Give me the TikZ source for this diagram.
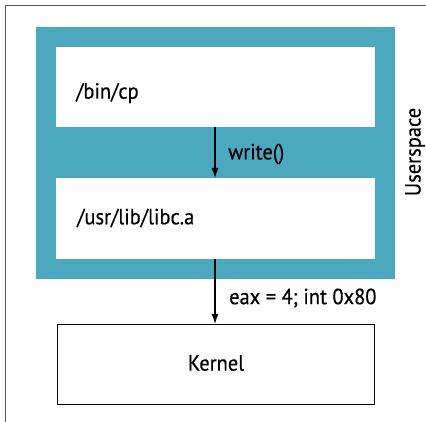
\documentclass[tikz,border=0pt]{standalone}
\usepackage{fontspec}
\setmainfont{PT Sans}[FakeStretch=0.93,FakeBold=0.4]
\usetikzlibrary{arrows.meta}
\definecolor{teal1}{RGB}{75,168,190}
\definecolor{frame}{RGB}{90,90,90}
\begin{document}
\begin{tikzpicture}[x=1pt,y=-1pt,
  lbl/.style={font=\fontsize{22}{24}\selectfont, inner sep=0pt},
  arr/.style={-{Latex[length=10pt,width=7pt]}, line width=1.2pt}]
\useasboundingbox (0,0) rectangle (426,422);
\fill[white] (0,0) rectangle (426,422);
\draw[frame, line width=1pt] (5,422) -- (5,6) -- (426,6);
\node[fill=teal1, minimum width=359pt, minimum height=252pt, inner sep=0pt, anchor=north west] (user) at (36,27) {};
\node[fill=white, minimum width=319pt, minimum height=80pt, inner sep=0pt, anchor=north west] (cp) at (56,47) {};
\node[fill=white, minimum width=319pt, minimum height=81pt, inner sep=0pt, anchor=north west] (libc) at (56,178) {};
\node[draw=black, line width=1pt, minimum width=317pt, minimum height=80pt, inner sep=0pt, anchor=north west] (kernel) at (57,324) {};
\node[lbl, anchor=west] (tcp) at (76,93) {/bin/cp};
\node[lbl, anchor=west] (tlibc) at (77,218) {/usr/lib/libc.a};
\node[lbl] (tk) at (216,363) {Kernel};
\draw[arr] (cp.south -| 215,0) -- (libc.north -| 215,0);
\node[lbl, anchor=west] (tw) at (228,154) {write()};
\draw[arr] (libc.south -| 215,0) -- (kernel.north -| 215,0);
\node[lbl, anchor=west] (te) at (229,298) {eax = 4; int 0x80};
\node[lbl, rotate=90] (tu) at (415,152) {Userspace};
\end{tikzpicture}
\end{document}
